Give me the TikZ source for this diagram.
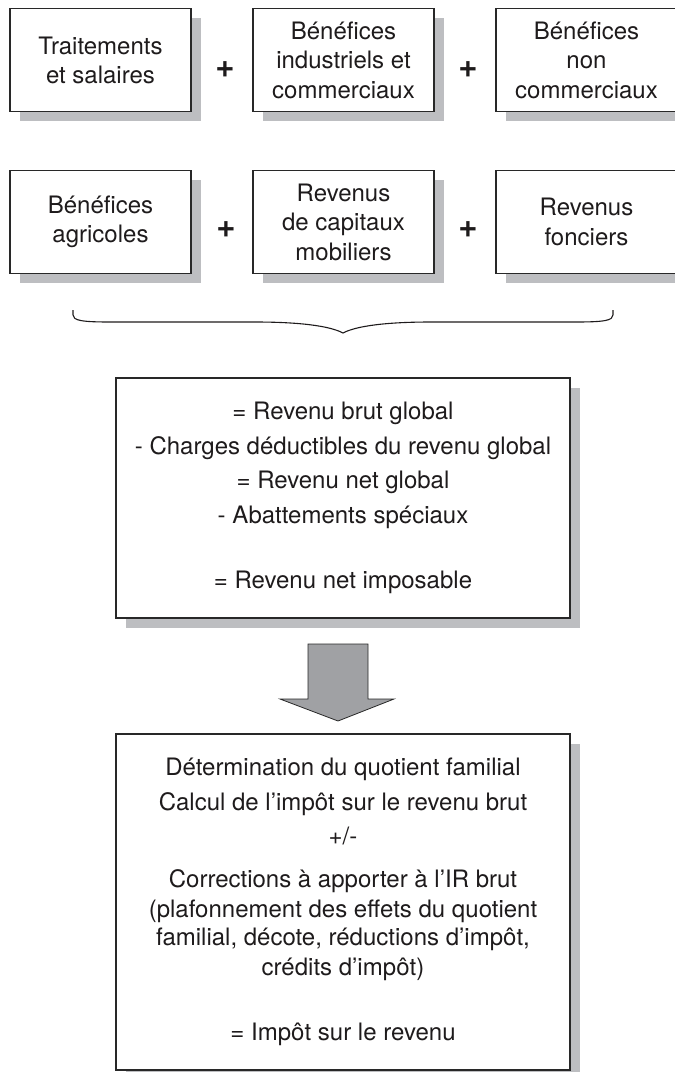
\documentclass[tikz,border=0pt]{standalone}
\usepackage{fontspec}
\setmainfont{TeX Gyre Heros}
\usetikzlibrary{shadows}
\definecolor{ink}{RGB}{30,27,28}
\definecolor{frame}{RGB}{40,40,40}
\definecolor{shade}{RGB}{189,190,193}
\definecolor{arrowgray}{RGB}{160,161,164}
\begin{document}
\begin{tikzpicture}[x=1pt,y=-1pt,
  txt/.style={font=\fontsize{24}{29.5}\selectfont, text=ink, align=center},
  card/.style={txt, draw=frame, line width=1.1pt, fill=white, inner sep=0pt, outer sep=0pt,
     drop shadow={shadow xshift=9.5pt, shadow yshift=-9.5pt, opacity=1, fill=shade, draw=none}},
  small/.style={card, minimum width=181pt, minimum height=103pt},
  big/.style={card, minimum width=454pt},
  plus/.style={font=\fontsize{33}{33}\bfseries\selectfont, text=ink, inner sep=0pt},
  bracket/.style={draw=ink, line width=1.1pt},
  blockarrow/.style={fill=arrowgray, draw=frame, line width=0.8pt, line join=miter},
]
\useasboundingbox (0,0) rectangle (675,1072);
\clip (0,0) rectangle (675,1072);

% first row of income categories
\node[small] (ts)  at (100.5,60.3) {Traitements\\et salaires};
\node[small] (bic) at (343.5,60.3) {Bénéfices\\industriels et\\commerciaux};
\node[small] (bnc) at (586.5,60.3) {Bénéfices\\non\\commerciaux};
\node[plus] (p1) at (225,70) {+};
\node[plus] (p2) at (468,70) {+};

% second row of income categories
\node[small] (ba)  at (100.5,222) {Bénéfices\\agricoles};
\node[small] (rcm) at (343.5,222) {Revenus\\de capitaux\\mobiliers};
\node[small] (rf)  at (586.5,222) {Revenus\\fonciers};
\node[plus] (p3) at (226,230) {+};
\node[plus] (p4) at (468,230) {+};

% curly brace gathering all categories
\coordinate (bl) at (73,310);
\coordinate (br) at (613,310);
\coordinate (bt) at (343,333);
\draw[bracket] (bl) -- (73,315) .. controls (73,320.5) and (82,322) .. (110,322)
  -- (255,322) .. controls (300,322) and (330,326) .. (bt)
  .. controls (356,326) and (386,322) .. (431,322)
  -- (576,322) .. controls (604,322) and (613,320.5) .. (613,315) -- (br);

% from gross income to taxable income
\node[big, minimum height=240pt] (rng) at (343,498)
  {= Revenu brut global\\[5.2pt]
   - Charges déductibles du revenu global\\[5.2pt]
   = Revenu net global\\[5.2pt]
   - Abattements spéciaux\\[35.5pt]
   = Revenu net imposable};

% block arrow
\draw[blockarrow] (308,644) -- (368,644) -- (368,699) -- (394,699) -- (338,721)
  -- (280,699) -- (308,699) -- cycle;

% tax computation
\node[big, minimum height=336pt] (ir) at (343,902)
  {Détermination du quotient familial\\[5.5pt]
   Calcul de l’impôt sur le revenu brut\\[4.5pt]
   +/-\\[13.5pt]
   Corrections à apporter à l’IR brut\\[0.5pt]
   (plafonnement des effets du quotient\\[-1.5pt]
   familial, décote, réductions d’impôt,\\
   crédits d’impôt)\\[35.5pt]
   = Impôt sur le revenu};
\end{tikzpicture}
\end{document}
